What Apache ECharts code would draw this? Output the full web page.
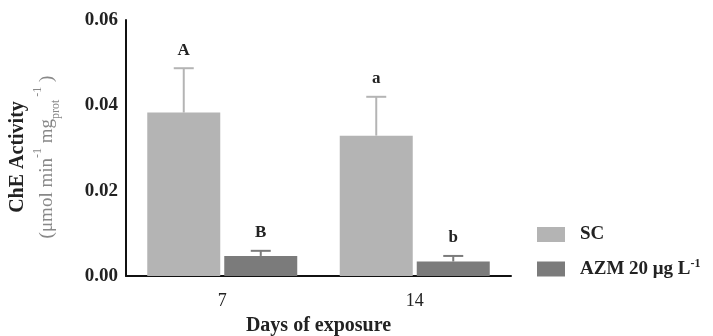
<!DOCTYPE html>
<html>
<head>
<meta charset="utf-8">
<script src="https://cdn.jsdelivr.net/npm/echarts@6/dist/echarts.min.js"></script>
<style>
  html, body { margin: 0; padding: 0; background: #fff; }
  #chart { width: 713px; height: 336px; }
</style>
</head>
<body>
<div id="chart"></div>
<script>
// values
const days = ['7', '14'];
const scMean = [0.0383, 0.0329];
const scErr = [0.0104, 0.0091];
const azmMean = [0.0047, 0.0034];
const azmErr = [0.0012, 0.0013];
const scLetters = ['A', 'a'];
const azmLetters = ['B', 'b'];
const yTicks = [0, 0.02, 0.04, 0.06];

const SERIF = '"Liberation Serif", "DejaVu Serif", serif';
const BAR_W = 73;
const GAP = 4;
const SC_COLOR = '#b4b4b4';
const AZM_COLOR = '#7b7b7b';

const myChart = echarts.init(document.getElementById('chart'));

function errItem(means, errs, letters, idx, color) {
    return function (params, api) {
        const i = api.value(0);
        const base = api.coord([i, means[i]]);
        const top = api.coord([i, means[i] + errs[i]]);
        const x = base[0] + (idx - 0.5) * (BAR_W + GAP);
        return {
            type: 'group',
            children: [
                { type: 'line', shape: { x1: x, y1: base[1], x2: x, y2: top[1] },
                  style: { stroke: color, lineWidth: 2 } },
                { type: 'line', shape: { x1: x - 10, y1: top[1], x2: x + 10, y2: top[1] },
                  style: { stroke: color, lineWidth: 2 } },
                { type: 'text', x: x, y: top[1] - 18,
                  style: { text: letters[i], font: 'bold 17px ' + SERIF, fill: '#222',
                           align: 'center', verticalAlign: 'middle' } }
            ]
        };
    };
}

const option = {
    animation: false,
    textStyle: { fontFamily: SERIF },
    grid: { left: 126, right: 202, top: 20, bottom: 60, outerBoundsMode: 'none', containLabel: false },
    legend: {
        orient: 'vertical',
        left: 537,
        top: 225,
        padding: 0,
        itemWidth: 28,
        itemHeight: 15,
        itemGap: 14,
        icon: 'rect',
        data: ['SC', 'AZM'],
        formatter: function (name) {
            return name === 'SC' ? '{n|SC}' : '{n|AZM 20 μg L}{sup|-1}';
        },
        textStyle: {
            padding: [0, 0, 0, 10],
            rich: {
                n: { fontFamily: SERIF, fontSize: 19, fontWeight: 'bold', color: '#222', lineHeight: 22 },
                sup: { fontFamily: SERIF, fontSize: 12, fontWeight: 'bold', color: '#222', verticalAlign: 'top', lineHeight: 22 }
            }
        }
    },
    xAxis: {
        type: 'category',
        data: days,
        axisLine: { show: true, lineStyle: { color: '#111', width: 2 } },
        axisTick: { show: false },
        axisLabel: { color: '#222', fontSize: 18, fontFamily: SERIF, margin: 16 },
        name: 'Days of exposure',
        nameLocation: 'middle',
        nameGap: 40,
        nameTextStyle: { color: '#222', fontSize: 20, fontWeight: 'bold', fontFamily: SERIF }
    },
    yAxis: {
        type: 'value',
        min: 0,
        max: 0.06,
        interval: 0.02,
        splitLine: { show: false },
        axisLine: { show: true, lineStyle: { color: '#111', width: 2 } },
        axisTick: { show: false },
        axisLabel: {
            color: '#222', fontSize: 19, fontWeight: 'bold', fontFamily: SERIF, margin: 8,
            formatter: function (v) { return yTicks.indexOf(v) >= 0 ? v.toFixed(2) : ''; }
        },
        name: '{t|ChE Activity}\n{u|(μmol min}{sup|-1}{u| mg}{sub|prot}{sup| -1}{u| )}',
        nameLocation: 'middle',
        nameRotate: 90,
        nameGap: 64,
        nameTextStyle: {
            padding: [0, 18, 0, 0],
            rich: {
                t: { fontFamily: SERIF, fontSize: 20, fontWeight: 'bold', color: '#222', lineHeight: 28 },
                u: { fontFamily: SERIF, fontSize: 19, color: '#888', lineHeight: 30 },
                sup: { fontFamily: SERIF, fontSize: 12, color: '#888', verticalAlign: 'top', lineHeight: 30 },
                sub: { fontFamily: SERIF, fontSize: 12, color: '#888', verticalAlign: 'bottom', lineHeight: 30 }
            }
        }
    },
    series: [
        { name: 'SC', type: 'bar', data: scMean, barWidth: BAR_W, barGap: (GAP / BAR_W * 100) + '%',
          itemStyle: { color: SC_COLOR } },
        { name: 'AZM', type: 'bar', data: azmMean, barWidth: BAR_W,
          itemStyle: { color: AZM_COLOR } },
        { type: 'custom', renderItem: errItem(scMean, scErr, scLetters, 0, SC_COLOR),
          data: days.map((d, i) => [i, scMean[i]]), z: 5 },
        { type: 'custom', renderItem: errItem(azmMean, azmErr, azmLetters, 1, AZM_COLOR),
          data: days.map((d, i) => [i, azmMean[i]]), z: 5 }
    ]
};

myChart.setOption(option);
</script>
</body>
</html>
